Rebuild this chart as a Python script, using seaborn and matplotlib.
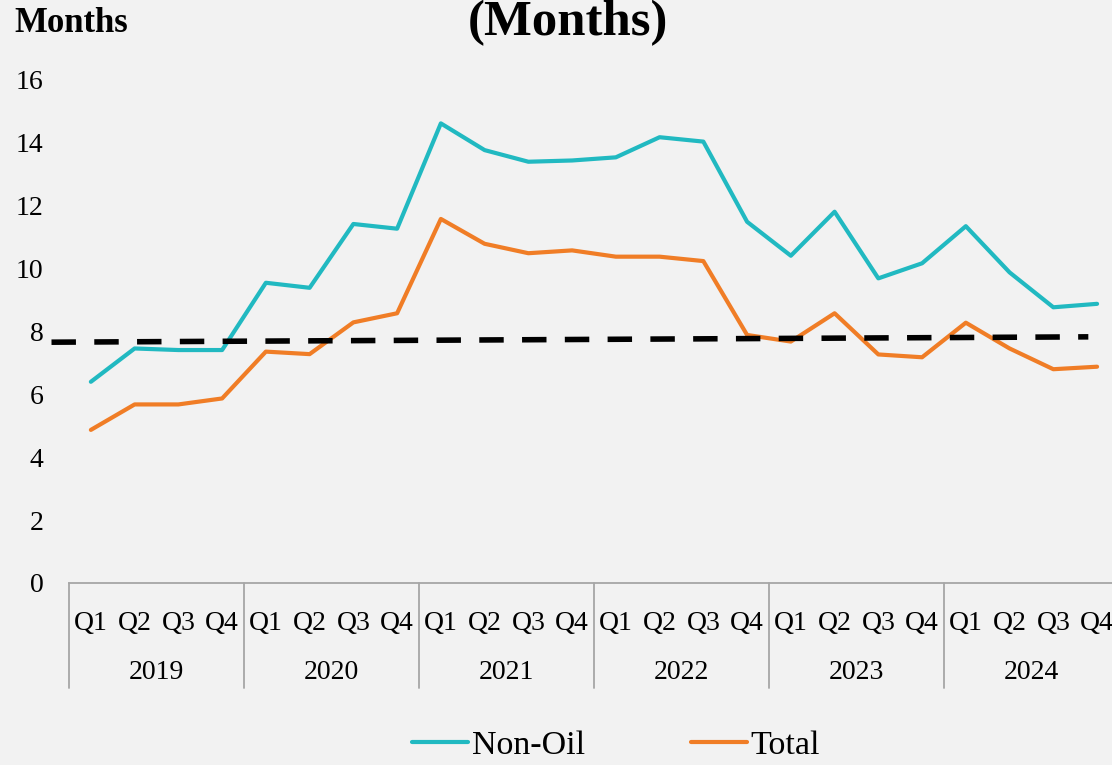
import pandas as pd
import seaborn as sns
import numpy as np
import matplotlib.pyplot as plt
from matplotlib.lines import Line2D

# data
years = ["2019", "2020", "2021", "2022", "2023", "2024"]
quarters = ["Q1", "Q2", "Q3", "Q4"]
non_oil = [6.40, 7.46, 7.41, 7.41,
           9.55, 9.39, 11.42, 11.27,
           14.62, 13.77, 13.40, 13.44,
           13.54, 14.18, 14.04, 11.49,
           10.41, 11.81, 9.69, 10.17,
           11.35, 9.88, 8.77, 8.88]
total = [4.87, 5.68, 5.68, 5.87,
         7.36, 7.28, 8.29, 8.58,
         11.58, 10.79, 10.49, 10.58,
         10.38, 10.38, 10.24, 7.89,
         7.68, 8.58, 7.27, 7.18,
         8.28, 7.46, 6.80, 6.88]
trend_x = [-0.9, 22.8]
trend_y = [7.66, 7.83]

teal = "#21B9C1"
orange = "#F07D26"
bg = "#F2F2F2"
axis_gray = "#A6A6A6"

sns.set_theme(style="white")
plt.rcParams['font.family'] = ['Liberation Serif', 'DejaVu Serif']
plt.rcParams['text.color'] = 'black'
plt.rcParams['xtick.color'] = 'black'
plt.rcParams['ytick.color'] = 'black'

labels = [q for y in years for q in quarters]
df = pd.DataFrame({"idx": np.arange(len(labels)), "Non-Oil": non_oil, "Total": total})

fig = plt.figure(figsize=(11.12, 7.65), dpi=100, facecolor=bg)
ax = fig.add_axes([0.06205, 0.23791, 0.9442, 0.65752], facecolor=bg)

sns.lineplot(data=df, x="idx", y="Non-Oil", color=teal, linewidth=3.0, ax=ax, label="Non-Oil")
sns.lineplot(data=df, x="idx", y="Total", color=orange, linewidth=3.0, ax=ax, label="Total")
ax.plot(trend_x, trend_y, color="black", linewidth=4, dashes=(4.4, 3.3),
        dash_capstyle="butt", clip_on=False, zorder=5)

ax.set_xlim(-0.5, len(labels) - 0.5)
ax.set_ylim(0, 16)
ax.set_yticks(range(0, 17, 2))
ax.set_xlabel("")
ax.set_ylabel("")
for s in ["top", "right", "left"]:
    ax.spines[s].set_visible(False)
ax.spines["bottom"].set_color(axis_gray)
ax.spines["bottom"].set_linewidth(1.3)

ax.set_xticks(range(len(labels)))
ax.set_xticklabels(labels)
ax.tick_params(axis="x", length=0, pad=33.8, labelsize=20, labelcolor="black")
for lbl in ax.get_xticklabels():
    lbl.set_va("baseline")
ax.tick_params(axis="y", length=0, pad=18.5, labelsize=20, labelcolor="black")

# year labels + separators
trans = ax.get_xaxis_transform()
for i, y in enumerate(years):
    ax.text(i * 4 + 1.5, -0.1909, y, transform=trans, ha="center", va="baseline",
            fontsize=20, color="black")
for b in range(len(years) + 1):
    ax.add_line(Line2D([b * 4 - 0.5, b * 4 - 0.5], [0, -0.209], transform=trans,
                       color=axis_gray, linewidth=1.3, clip_on=False))

ax.get_legend().remove()
handles = ax.get_lines()[:2]
fig.legend(handles, ["Non-Oil", "Total"], loc="center", bbox_to_anchor=(0.554, 0.026),
           ncol=2, frameon=False, fontsize=24.5, handlelength=1.65, handletextpad=0.12,
           columnspacing=3.1, labelcolor="black", borderpad=0)

fig.text(14 / 1112, 1 - 32.5 / 765, "Months", ha="left", va="baseline", fontsize=25,
         fontweight="bold", color="black")
fig.text(568 / 1112, 1 - 35 / 765, "(Months)", ha="center", va="baseline", fontsize=36.5,
         fontweight="bold", color="black")

plt.savefig("out.png", dpi=100, facecolor=bg)
